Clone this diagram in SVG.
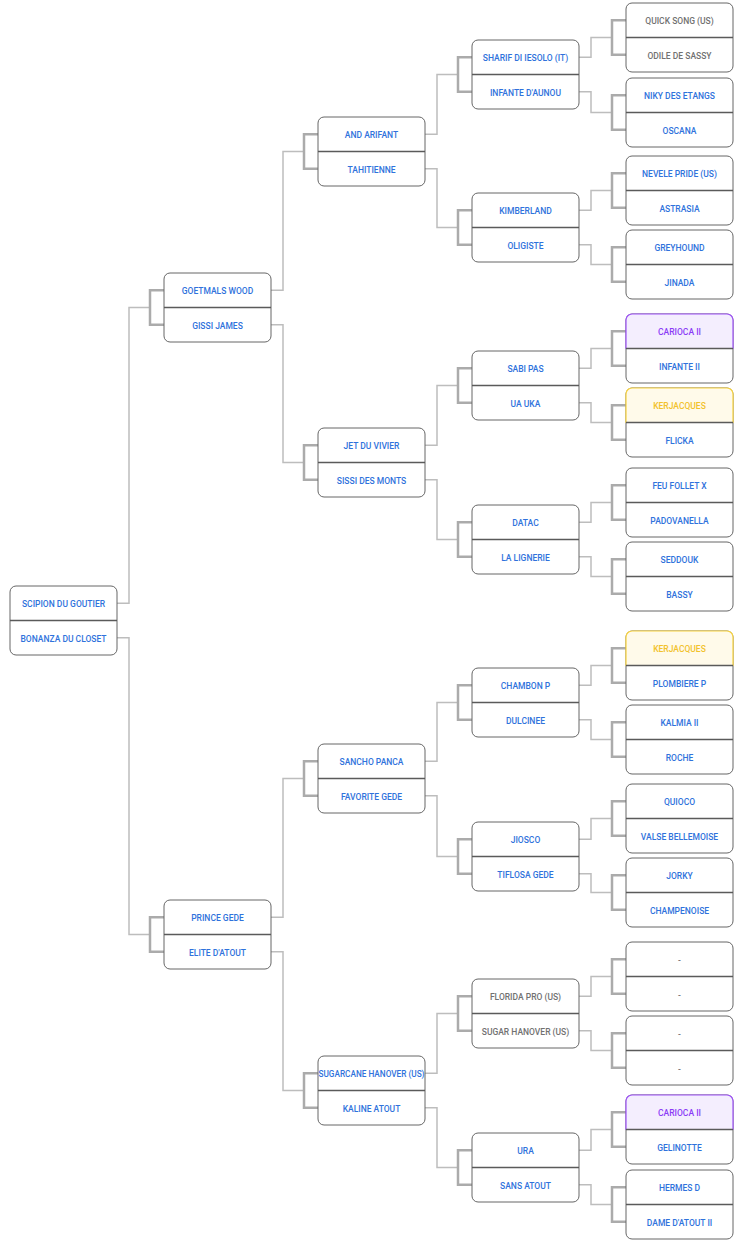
<svg xmlns="http://www.w3.org/2000/svg" width="744" height="1244" viewBox="0 0 744 1244">
<style>
.bg{fill:#ffffff}
.c{fill:none;stroke:#bdbdbd;stroke-width:1.5}
.b{fill:none;stroke:#ababab;stroke-width:2.5}
.box{fill:#ffffff;stroke:#666666;stroke-width:1}
.dv{stroke:#5a5a5a;stroke-width:1.5}
.hp{fill:#f4eefe;stroke:#9d52f7;stroke-width:1.2}
.hy{fill:#fffaea;stroke:#f7d23e;stroke-width:1.2}
text{font-family:Roboto,"Liberation Sans",sans-serif;font-size:8.5px;font-weight:500;text-anchor:middle;dominant-baseline:central;fill:#2f72dc}
.g{fill:#717171}
.p{fill:#8b3cf6}
.y{fill:#f2c22c}
</style>
<rect class="bg" width="744" height="1244"/>
<g id="connectors">
<path class="c" d="M117 603.25 H129 V307.5 H150"/>
<path class="b" d="M164 290.25 H150 V324.75 H164"/>
<path class="c" d="M117 637.75 H129 V934.5 H150"/>
<path class="b" d="M164 917.25 H150 V951.75 H164"/>

<path class="c" d="M271 290.25 H283 V151.5 H304"/>
<path class="b" d="M318 134.25 H304 V168.75 H318"/>
<path class="c" d="M271 324.75 H283 V462.5 H304"/>
<path class="b" d="M318 445.25 H304 V479.75 H318"/>
<path class="c" d="M271 917.25 H283 V778.5 H304"/>
<path class="b" d="M318 761.25 H304 V795.75 H318"/>
<path class="c" d="M271 951.75 H283 V1090.5 H304"/>
<path class="b" d="M318 1073.25 H304 V1107.75 H318"/>

<path class="c" d="M425 134.25 H437 V74.5 H458"/>
<path class="b" d="M472 57.25 H458 V91.75 H472"/>
<path class="c" d="M425 168.75 H437 V227.5 H458"/>
<path class="b" d="M472 210.25 H458 V244.75 H472"/>
<path class="c" d="M425 445.25 H437 V385.5 H458"/>
<path class="b" d="M472 368.25 H458 V402.75 H472"/>
<path class="c" d="M425 479.75 H437 V539.5 H458"/>
<path class="b" d="M472 522.25 H458 V556.75 H472"/>
<path class="c" d="M425 761.25 H437 V702.5 H458"/>
<path class="b" d="M472 685.25 H458 V719.75 H472"/>
<path class="c" d="M425 795.75 H437 V856.5 H458"/>
<path class="b" d="M472 839.25 H458 V873.75 H472"/>
<path class="c" d="M425 1073.25 H437 V1013.5 H458"/>
<path class="b" d="M472 996.25 H458 V1030.75 H472"/>
<path class="c" d="M425 1107.75 H437 V1167.5 H458"/>
<path class="b" d="M472 1150.25 H458 V1184.75 H472"/>

<path class="c" d="M579 57.25 H591 V37.5 H612"/>
<path class="b" d="M626 20.25 H612 V54.75 H626"/>
<path class="c" d="M579 91.75 H591 V112.5 H612"/>
<path class="b" d="M626 95.25 H612 V129.75 H626"/>
<path class="c" d="M579 210.25 H591 V190.5 H612"/>
<path class="b" d="M626 173.25 H612 V207.75 H626"/>
<path class="c" d="M579 244.75 H591 V264.5 H612"/>
<path class="b" d="M626 247.25 H612 V281.75 H626"/>
<path class="c" d="M579 368.25 H591 V348.5 H612"/>
<path class="b" d="M626 331.25 H612 V365.75 H626"/>
<path class="c" d="M579 402.75 H591 V422.5 H612"/>
<path class="b" d="M626 405.25 H612 V439.75 H626"/>
<path class="c" d="M579 522.25 H591 V502.5 H612"/>
<path class="b" d="M626 485.25 H612 V519.75 H626"/>
<path class="c" d="M579 556.75 H591 V576.5 H612"/>
<path class="b" d="M626 559.25 H612 V593.75 H626"/>
<path class="c" d="M579 685.25 H591 V665.5 H612"/>
<path class="b" d="M626 648.25 H612 V682.75 H626"/>
<path class="c" d="M579 719.75 H591 V739.5 H612"/>
<path class="b" d="M626 722.25 H612 V756.75 H626"/>
<path class="c" d="M579 839.25 H591 V818.5 H612"/>
<path class="b" d="M626 801.25 H612 V835.75 H626"/>
<path class="c" d="M579 873.75 H591 V892.5 H612"/>
<path class="b" d="M626 875.25 H612 V909.75 H626"/>
<path class="c" d="M579 996.25 H591 V976.5 H612"/>
<path class="b" d="M626 959.25 H612 V993.75 H626"/>
<path class="c" d="M579 1030.75 H591 V1050.5 H612"/>
<path class="b" d="M626 1033.25 H612 V1067.75 H626"/>
<path class="c" d="M579 1150.25 H591 V1129.5 H612"/>
<path class="b" d="M626 1112.25 H612 V1146.75 H626"/>
<path class="c" d="M579 1184.75 H591 V1204.5 H612"/>
<path class="b" d="M626 1187.25 H612 V1221.75 H626"/>
</g>

<g id="n-scipion" transform="translate(10,586)"><rect class="box" width="107" height="69" rx="6"/><line class="dv" x1="0" y1="34.5" x2="107" y2="34.5"/><text x="53.5" y="18">SCIPION DU GOUTIER</text><text x="53.5" y="52.5">BONANZA DU CLOSET</text></g>

<g id="n-goetmals" transform="translate(164,273)"><rect class="box" width="107" height="69" rx="6"/><line class="dv" x1="0" y1="34.5" x2="107" y2="34.5"/><text x="53.5" y="18">GOETMALS WOOD</text><text x="53.5" y="52.5">GISSI JAMES</text></g>
<g id="n-prince" transform="translate(164,900)"><rect class="box" width="107" height="69" rx="6"/><line class="dv" x1="0" y1="34.5" x2="107" y2="34.5"/><text x="53.5" y="18">PRINCE GEDE</text><text x="53.5" y="52.5">ELITE D'ATOUT</text></g>

<g id="n-andarifant" transform="translate(318,117)"><rect class="box" width="107" height="69" rx="6"/><line class="dv" x1="0" y1="34.5" x2="107" y2="34.5"/><text x="53.5" y="18">AND ARIFANT</text><text x="53.5" y="52.5">TAHITIENNE</text></g>
<g id="n-jet" transform="translate(318,428)"><rect class="box" width="107" height="69" rx="6"/><line class="dv" x1="0" y1="34.5" x2="107" y2="34.5"/><text x="53.5" y="18">JET DU VIVIER</text><text x="53.5" y="52.5">SISSI DES MONTS</text></g>
<g id="n-sancho" transform="translate(318,744)"><rect class="box" width="107" height="69" rx="6"/><line class="dv" x1="0" y1="34.5" x2="107" y2="34.5"/><text x="53.5" y="18">SANCHO PANCA</text><text x="53.5" y="52.5">FAVORITE GEDE</text></g>
<g id="n-sugarcane" transform="translate(318,1056)"><rect class="box" width="107" height="69" rx="6"/><line class="dv" x1="0" y1="34.5" x2="107" y2="34.5"/><text x="53.5" y="18" textLength="106" lengthAdjust="spacingAndGlyphs">SUGARCANE HANOVER (US)</text><text x="53.5" y="52.5">KALINE ATOUT</text></g>

<g id="n-sharif" transform="translate(472,40)"><rect class="box" width="107" height="69" rx="6"/><line class="dv" x1="0" y1="34.5" x2="107" y2="34.5"/><text x="53.5" y="18">SHARIF DI IESOLO (IT)</text><text x="53.5" y="52.5">INFANTE D'AUNOU</text></g>
<g id="n-kimberland" transform="translate(472,193)"><rect class="box" width="107" height="69" rx="6"/><line class="dv" x1="0" y1="34.5" x2="107" y2="34.5"/><text x="53.5" y="18">KIMBERLAND</text><text x="53.5" y="52.5">OLIGISTE</text></g>
<g id="n-sabipas" transform="translate(472,351)"><rect class="box" width="107" height="69" rx="6"/><line class="dv" x1="0" y1="34.5" x2="107" y2="34.5"/><text x="53.5" y="18">SABI PAS</text><text x="53.5" y="52.5">UA UKA</text></g>
<g id="n-datac" transform="translate(472,505)"><rect class="box" width="107" height="69" rx="6"/><line class="dv" x1="0" y1="34.5" x2="107" y2="34.5"/><text x="53.5" y="18">DATAC</text><text x="53.5" y="52.5">LA LIGNERIE</text></g>
<g id="n-chambon" transform="translate(472,668)"><rect class="box" width="107" height="69" rx="6"/><line class="dv" x1="0" y1="34.5" x2="107" y2="34.5"/><text x="53.5" y="18">CHAMBON P</text><text x="53.5" y="52.5">DULCINEE</text></g>
<g id="n-jiosco" transform="translate(472,822)"><rect class="box" width="107" height="69" rx="6"/><line class="dv" x1="0" y1="34.5" x2="107" y2="34.5"/><text x="53.5" y="18">JIOSCO</text><text x="53.5" y="52.5">TIFLOSA GEDE</text></g>
<g id="n-florida" transform="translate(472,979)"><rect class="box" width="107" height="69" rx="6"/><line class="dv" x1="0" y1="34.5" x2="107" y2="34.5"/><text class="g" x="53.5" y="18">FLORIDA PRO (US)</text><text class="g" x="53.5" y="52.5">SUGAR HANOVER (US)</text></g>
<g id="n-ura" transform="translate(472,1133)"><rect class="box" width="107" height="69" rx="6"/><line class="dv" x1="0" y1="34.5" x2="107" y2="34.5"/><text x="53.5" y="18">URA</text><text x="53.5" y="52.5">SANS ATOUT</text></g>

<g id="n-quicksong" transform="translate(626,3)"><rect class="box" width="107" height="69" rx="6"/><line class="dv" x1="0" y1="34.5" x2="107" y2="34.5"/><text class="g" x="53.5" y="18">QUICK SONG (US)</text><text class="g" x="53.5" y="52.5">ODILE DE SASSY</text></g>
<g id="n-niky" transform="translate(626,78)"><rect class="box" width="107" height="69" rx="6"/><line class="dv" x1="0" y1="34.5" x2="107" y2="34.5"/><text x="53.5" y="18">NIKY DES ETANGS</text><text x="53.5" y="52.5">OSCANA</text></g>
<g id="n-nevele" transform="translate(626,156)"><rect class="box" width="107" height="69" rx="6"/><line class="dv" x1="0" y1="34.5" x2="107" y2="34.5"/><text x="53.5" y="18">NEVELE PRIDE (US)</text><text x="53.5" y="52.5">ASTRASIA</text></g>
<g id="n-greyhound" transform="translate(626,230)"><rect class="box" width="107" height="69" rx="6"/><line class="dv" x1="0" y1="34.5" x2="107" y2="34.5"/><text x="53.5" y="18">GREYHOUND</text><text x="53.5" y="52.5">JINADA</text></g>
<g id="n-carioca1" transform="translate(626,314)"><rect class="box" width="107" height="69" rx="6"/><path class="hp" d="M0 34.5 V6 A6 6 0 0 1 6 0 H101 A6 6 0 0 1 107 6 V34.5 Z"/><line class="dv" x1="0" y1="34.5" x2="107" y2="34.5"/><text class="p" x="53.5" y="18">CARIOCA II</text><text x="53.5" y="52.5">INFANTE II</text></g>
<g id="n-kerjacques1" transform="translate(626,388)"><rect class="box" width="107" height="69" rx="6"/><path class="hy" d="M0 34.5 V6 A6 6 0 0 1 6 0 H101 A6 6 0 0 1 107 6 V34.5 Z"/><line class="dv" x1="0" y1="34.5" x2="107" y2="34.5"/><text class="y" x="53.5" y="18">KERJACQUES</text><text x="53.5" y="52.5">FLICKA</text></g>
<g id="n-feufollet" transform="translate(626,468)"><rect class="box" width="107" height="69" rx="6"/><line class="dv" x1="0" y1="34.5" x2="107" y2="34.5"/><text x="53.5" y="18">FEU FOLLET X</text><text x="53.5" y="52.5">PADOVANELLA</text></g>
<g id="n-seddouk" transform="translate(626,542)"><rect class="box" width="107" height="69" rx="6"/><line class="dv" x1="0" y1="34.5" x2="107" y2="34.5"/><text x="53.5" y="18">SEDDOUK</text><text x="53.5" y="52.5">BASSY</text></g>
<g id="n-kerjacques2" transform="translate(626,631)"><rect class="box" width="107" height="69" rx="6"/><path class="hy" d="M0 34.5 V6 A6 6 0 0 1 6 0 H101 A6 6 0 0 1 107 6 V34.5 Z"/><line class="dv" x1="0" y1="34.5" x2="107" y2="34.5"/><text class="y" x="53.5" y="18">KERJACQUES</text><text x="53.5" y="52.5">PLOMBIERE P</text></g>
<g id="n-kalmia" transform="translate(626,705)"><rect class="box" width="107" height="69" rx="6"/><line class="dv" x1="0" y1="34.5" x2="107" y2="34.5"/><text x="53.5" y="18">KALMIA II</text><text x="53.5" y="52.5">ROCHE</text></g>
<g id="n-quioco" transform="translate(626,784)"><rect class="box" width="107" height="69" rx="6"/><line class="dv" x1="0" y1="34.5" x2="107" y2="34.5"/><text x="53.5" y="18">QUIOCO</text><text x="53.5" y="52.5">VALSE BELLEMOISE</text></g>
<g id="n-jorky" transform="translate(626,858)"><rect class="box" width="107" height="69" rx="6"/><line class="dv" x1="0" y1="34.5" x2="107" y2="34.5"/><text x="53.5" y="18">JORKY</text><text x="53.5" y="52.5">CHAMPENOISE</text></g>
<g id="n-unknown1" transform="translate(626,942)"><rect class="box" width="107" height="69" rx="6"/><line class="dv" x1="0" y1="34.5" x2="107" y2="34.5"/><text class="g" x="53.5" y="18">-</text><text class="g" x="53.5" y="52.5">-</text></g>
<g id="n-unknown2" transform="translate(626,1016)"><rect class="box" width="107" height="69" rx="6"/><line class="dv" x1="0" y1="34.5" x2="107" y2="34.5"/><text class="g" x="53.5" y="18">-</text><text class="g" x="53.5" y="52.5">-</text></g>
<g id="n-carioca2" transform="translate(626,1095)"><rect class="box" width="107" height="69" rx="6"/><path class="hp" d="M0 34.5 V6 A6 6 0 0 1 6 0 H101 A6 6 0 0 1 107 6 V34.5 Z"/><line class="dv" x1="0" y1="34.5" x2="107" y2="34.5"/><text class="p" x="53.5" y="18">CARIOCA II</text><text x="53.5" y="52.5">GELINOTTE</text></g>
<g id="n-hermes" transform="translate(626,1170)"><rect class="box" width="107" height="69" rx="6"/><line class="dv" x1="0" y1="34.5" x2="107" y2="34.5"/><text x="53.5" y="18">HERMES D</text><text x="53.5" y="52.5">DAME D'ATOUT II</text></g>
</svg>
